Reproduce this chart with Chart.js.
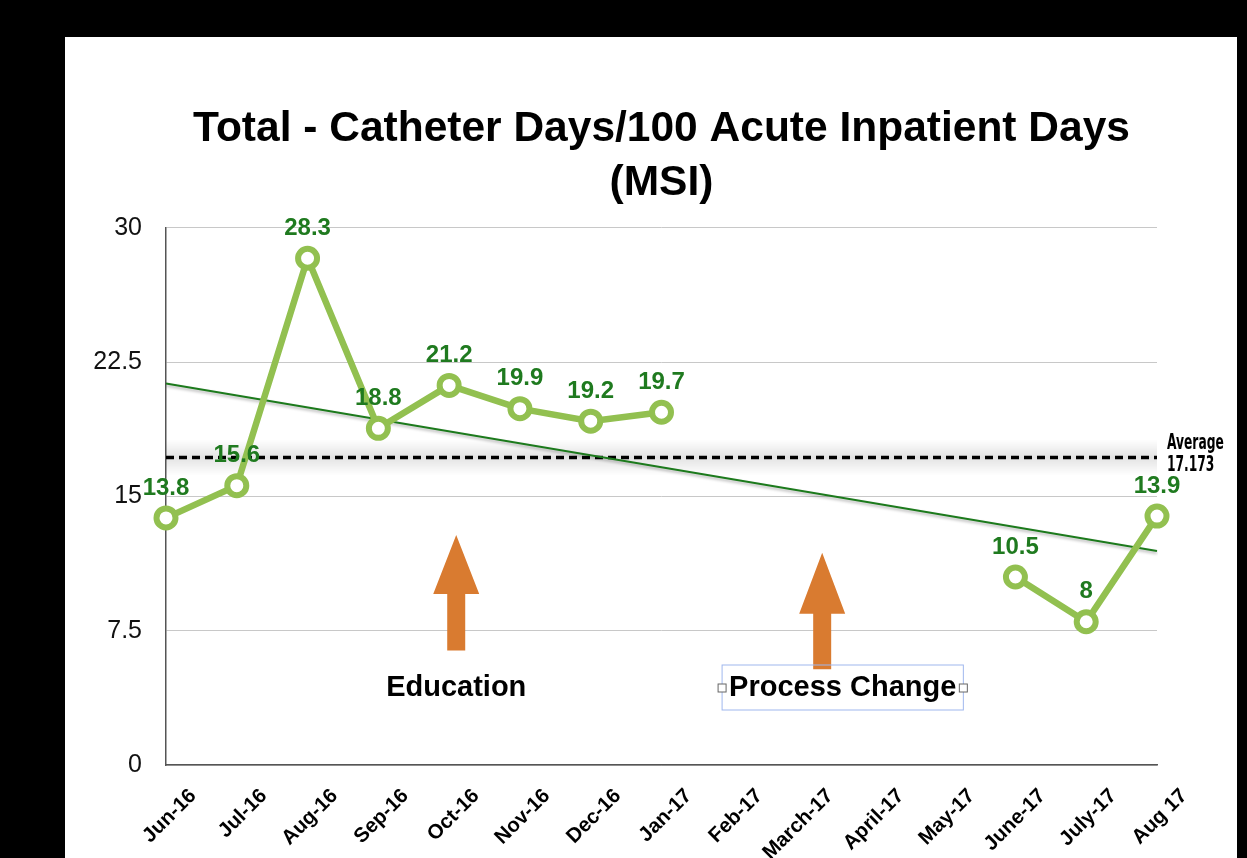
<!DOCTYPE html>
<html>
<head>
<meta charset="utf-8">
<script src="https://cdn.jsdelivr.net/npm/chart.js@4.4.0/dist/chart.umd.min.js"></script>
<style>
html, body { margin: 0; padding: 0; background: #000; width: 1247px; height: 858px; overflow: hidden; }
#panel { position: absolute; left: 65px; top: 37px; width: 1172px; height: 821px; background: #fff; }
</style>
</head>
<body>
<div id="panel"><canvas id="myChart" width="1172" height="821"></canvas></div>
<script>
const months = ['Jun-16', 'Jul-16', 'Aug-16', 'Sep-16', 'Oct-16', 'Nov-16', 'Dec-16', 'Jan-17',
	'Feb-17', 'March-17', 'April-17', 'May-17', 'June-17', 'July-17', 'Aug 17'];
const catheterDays = [13.8, 15.6, 28.3, 18.8, 21.2, 19.9, 19.2, 19.7, null, null, null, null, 10.5, 8, 13.9];
const trendValues = [21.3, null, null, null, null, null, null, null, null, null, null, null, null, null, 11.95];
const averageValue = 17.173;
const averageValues = months.map(() => averageValue);
const yTicks = [0, 7.5, 15, 22.5, 30];

// annotations (category index, value)
const arrowIndex = [4.1, 9.27];
const arrowTip = [12.85, 11.85];
const arrowNeck = [9.55, 8.45];
const arrowBase = [6.4, 5.35];
const noteText = ['Education', 'Process Change'];
const noteIndex = [4.1, 9.56];
const noteValue = [4.3, 4.3];

const mainGreen = '#92c050';
const darkGreen = '#1f7a1f';
const fontFam = '"Liberation Sans", Arial, Helvetica, sans-serif';

const extras = {
	id: 'extras',
	beforeDatasetsDraw(chart) {
		const c = chart.ctx, area = chart.chartArea;
		const y = chart.scales.y.getPixelForValue(averageValue);
		const g = c.createLinearGradient(0, y - 18, 0, y + 18);
		g.addColorStop(0, 'rgba(0,0,0,0)');
		g.addColorStop(0.5, 'rgba(0,0,0,0.11)');
		g.addColorStop(1, 'rgba(0,0,0,0)');
		c.save();
		c.fillStyle = g;
		c.fillRect(area.left, y - 18, area.right - area.left, 36);
		c.restore();
	},
	beforeDatasetDraw(chart, args) {
		if (args.index === 1) {
			const c = chart.ctx;
			c.save();
			c.shadowColor = 'rgba(0,0,0,0.3)';
			c.shadowBlur = 3;
			c.shadowOffsetY = 2;
		}
	},
	afterDatasetDraw(chart, args) {
		if (args.index === 1) chart.ctx.restore();
	},
	afterDatasetsDraw(chart) {
		const c = chart.ctx, xs = chart.scales.x, ys = chart.scales.y;
		c.save();
		// value labels
		const meta = chart.getDatasetMeta(0);
		c.font = 'bold 24px ' + fontFam;
		c.fillStyle = darkGreen;
		c.textAlign = 'center';
		c.textBaseline = 'middle';
		meta.data.forEach((pt, i) => {
			const v = catheterDays[i];
			if (v === null) return;
			c.fillText(String(v), pt.x, pt.y - 30);
		});
		// average label
		const ay = ys.getPixelForValue(averageValue);
		c.fillStyle = '#000';
		c.textAlign = 'left';
		c.font = 'bold 21px "Liberation Sans Narrow", "DejaVu Sans Condensed", sans-serif';
		c.save();
		c.translate(xs.right + 10, ay);
		c.scale(0.65, 1);
		c.fillText('Average', 0, -14);
		c.fillText(String(averageValue), 0, 8);
		c.restore();
		// arrows
		c.fillStyle = '#d97b30';
		arrowIndex.forEach((ix, i) => {
			const x = xs.getPixelForValue(ix);
			const tip = ys.getPixelForValue(arrowTip[i]);
			const neck = ys.getPixelForValue(arrowNeck[i]);
			const base = ys.getPixelForValue(arrowBase[i]);
			c.beginPath();
			c.moveTo(x, tip);
			c.lineTo(x + 23, neck);
			c.lineTo(x + 9, neck);
			c.lineTo(x + 9, base);
			c.lineTo(x - 9, base);
			c.lineTo(x - 9, neck);
			c.lineTo(x - 23, neck);
			c.closePath();
			c.fill();
		});
		// note texts
		c.font = 'bold 29px ' + fontFam;
		c.fillStyle = '#000';
		c.textAlign = 'center';
		noteText.forEach((t, i) => {
			const x = xs.getPixelForValue(noteIndex[i]);
			const y = ys.getPixelForValue(noteValue[i]);
			c.fillText(t, x, y);
			if (i === 1) {
				const w = c.measureText(t).width;
				const l = x - w / 2 - 7, r = x + w / 2 + 7;
				c.strokeStyle = '#9fb7ee';
				c.lineWidth = 1;
				c.strokeRect(l, y - 23, r - l, 45);
				c.fillStyle = '#fff';
				c.strokeStyle = '#666';
				[l, r].forEach(hx => {
					c.fillRect(hx - 4, y - 4, 8, 8);
					c.strokeRect(hx - 4, y - 4, 8, 8);
				});
			}
		});
		c.restore();
	}
};

let ctx = document.getElementById('myChart').getContext('2d');
let myChart = new Chart(ctx, {
	type: 'line',
	data: {
		labels: months,
		datasets: [
			{
				data: catheterDays,
				borderColor: mainGreen,
				borderWidth: 6.5,
				pointRadius: 9.5,
				pointBorderWidth: 6,
				pointBackgroundColor: '#fff',
				pointBorderColor: mainGreen,
				spanGaps: false,
				tension: 0
			},
			{
				data: trendValues,
				borderColor: '#1c7a1c',
				borderWidth: 2,
				pointRadius: 0,
				spanGaps: true
			},
			{
				data: averageValues,
				borderColor: '#000',
				borderWidth: 3.5,
				borderDash: [8, 5],
				pointRadius: 0
			}
		]
	},
	options: {
		responsive: false,
		animation: false,
		layout: { padding: { left: 0, right: 80, top: 0, bottom: 0 } },
		plugins: {
			legend: { display: false },
			tooltip: { enabled: false },
			title: {
				display: true,
				fullSize: false,
				text: ['Total - Catheter Days/100 Acute Inpatient Days', '(MSI)'],
				color: '#000',
				font: { family: fontFam, size: 42.5, weight: 'bold', lineHeight: 1.28 },
				padding: { top: 65, bottom: 17 }
			}
		},
		scales: {
			x: {
				offset: false,
				grid: { display: false, drawTicks: false },
				border: { display: true, color: '#555', width: 1.5 },
				ticks: {
					autoSkip: false,
					minRotation: 45,
					maxRotation: 45,
					labelOffset: 27,
					padding: 19,
					color: '#000',
					font: { family: fontFam, size: 20.5, weight: 'bold' }
				},
				afterFit(scale) { scale.height = 93; }
			},
			y: {
				min: 0,
				max: 30,
				afterBuildTicks(scale) { scale.ticks = yTicks.map(v => ({ value: v })); },
				grid: { color: '#c8c8c8', lineWidth: 1, drawTicks: false },
				border: { display: true, color: '#555', width: 1.5 },
				ticks: {
					padding: 24,
					color: '#111',
					font: { family: fontFam, size: 25 }
				},
				afterFit(scale) { scale.width = 101; }
			}
		}
	},
	plugins: [extras]
});
</script>
</body>
</html>
